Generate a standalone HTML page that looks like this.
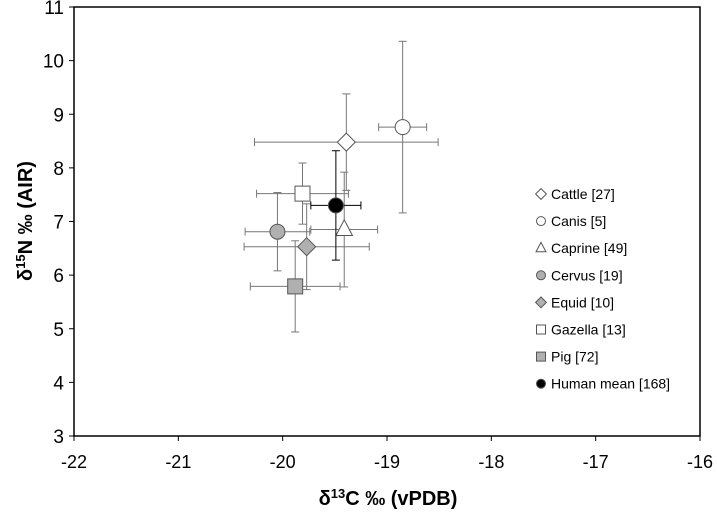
<!DOCTYPE html>
<html><head><meta charset="utf-8"><style>
body{margin:0;background:#fff;}
svg{display:block;font-family:"Liberation Sans",Arial,sans-serif;}
</style></head><body>
<svg id="c" width="717" height="516"></svg>
<script>
const species=["Cattle [27]","Canis [5]","Caprine [49]","Cervus [19]","Equid [10]","Gazella [13]","Pig [72]","Human mean [168]"];
const d13C=[-19.39,-18.85,-19.41,-20.05,-19.77,-19.81,-19.88,-19.49];
const d15N=[8.48,8.76,6.85,6.81,6.53,7.52,5.79,7.30];
const errC=[0.88,0.23,0.32,0.31,0.6,0.44,0.43,0.24];
const errN=[0.9,1.6,1.07,0.73,0.8,0.57,0.85,1.02];
const xTicks=[-22,-21,-20,-19,-18,-17,-16];
const yTicks=[3,4,5,6,7,8,9,10,11];
const shapes=["diamond","circle","triangle","circle","diamond","square","square","circle"];
const fills=["#fff","#fff","#fff","#b0b0b0","#b0b0b0","#fff","#b0b0b0","#000"];
const L=74,R=700,T=7,B=436;
const X=v=>L+(v+22)/6*(R-L), Y=v=>B-(v-3)/8*(B-T);
const svg=document.getElementById('c');const NS="http://www.w3.org/2000/svg";
function el(t,a,p){const e=document.createElementNS(NS,t);for(const k in a)e.setAttribute(k,a[k]);(p||svg).appendChild(e);return e;}
const frame=el('rect',{x:L,y:T,width:R-L,height:B-T,fill:'none',stroke:'#000','stroke-width':1.5});


xTicks.forEach(v=>{el('line',{x1:X(v),x2:X(v),y1:B,y2:B+5,stroke:'#000'});
const t=el('text',{x:X(v),y:B+32,'text-anchor':'middle','font-size':18});t.textContent=v;

});
yTicks.forEach(v=>{el('line',{x1:L-5,x2:L,y1:Y(v),y2:Y(v),stroke:'#000'});
const t=el('text',{x:L-10,y:Y(v)+7,'text-anchor':'end','font-size':19});t.textContent=v;

});
function marker(s,cx,cy,f,sz,g){
 if(s==='circle')return el('circle',{cx,cy,r:sz,fill:f,stroke:'#555'},g);
 if(s==='square')return el('rect',{x:cx-sz,y:cy-sz,width:2*sz,height:2*sz,fill:f,stroke:'#555'},g);
 if(s==='diamond')return el('polygon',{points:`${cx},${cy-sz*1.2} ${cx+sz*1.2},${cy} ${cx},${cy+sz*1.2} ${cx-sz*1.2},${cy}`,fill:f,stroke:'#555'},g);
 return el('polygon',{points:`${cx},${cy-sz*1.3} ${cx+sz*1.1},${cy+sz*0.8} ${cx-sz*1.1},${cy+sz*0.8}`,fill:f,stroke:'#555'},g);
}
species.forEach((s,i)=>{
 const g=el('g',{});
 
 
 const cx=X(d13C[i]),cy=Y(d15N[i]),c=i===7?'#000':'#777';
 const x1=X(d13C[i]-errC[i]),x2=X(d13C[i]+errC[i]),y1=Y(d15N[i]+errN[i]),y2=Y(d15N[i]-errN[i]);
 el('line',{x1,x2,y1:cy,y2:cy,stroke:c},g);
 el('line',{x1:cx,x2:cx,y1,y2,stroke:c},g);
 [x1,x2].forEach(x=>el('line',{x1:x,x2:x,y1:cy-4,y2:cy+4,stroke:c},g));
 [y1,y2].forEach(y=>el('line',{x1:cx-4,x2:cx+4,y1:y,y2:y,stroke:c},g));
 marker(shapes[i],cx,cy,fills[i],7.5,g);
 const lg=el('g',{});
 
 
 const ly=194+i*27.1;
 marker(shapes[i],541,ly,fills[i],4.5,lg);
 const t=el('text',{x:551,y:ly+5,'font-size':14},lg);t.textContent=s;
});
const xt=el('text',{x:388,y:505,'text-anchor':'middle','font-size':20,'font-weight':'bold'});
xt.innerHTML='δ<tspan baseline-shift="super" font-size="13">13</tspan>C ‰ (vPDB)';


const yt=el('text',{x:0,y:0,'text-anchor':'middle','font-size':20,'font-weight':'bold',transform:'translate(32,221) rotate(-90)'});
yt.innerHTML='δ<tspan baseline-shift="super" font-size="13">15</tspan>N ‰ (AIR)';


</script>
</body></html>
